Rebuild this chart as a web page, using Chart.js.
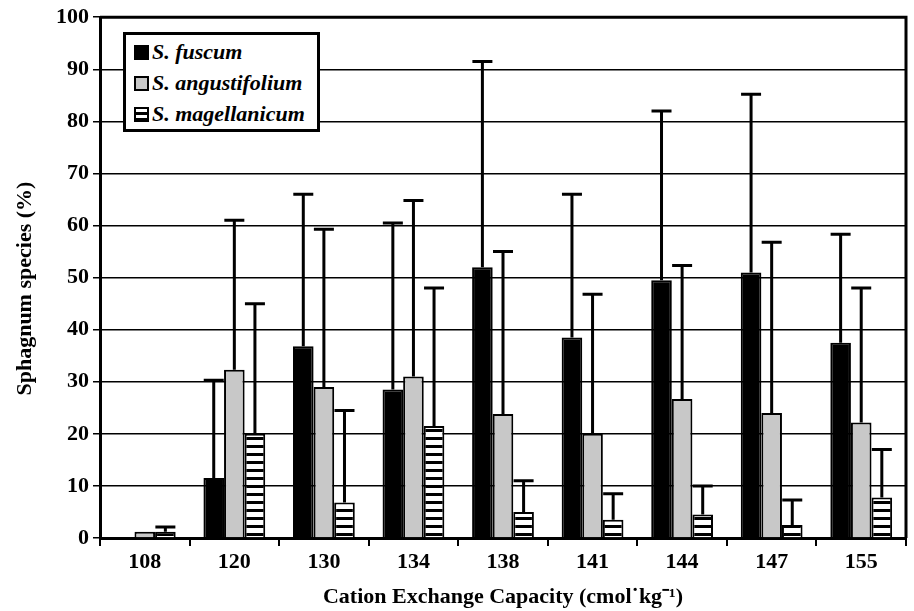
<!DOCTYPE html>
<html>
<head>
<meta charset="utf-8">
<script src="https://cdn.jsdelivr.net/npm/chart.js@4/dist/chart.umd.min.js"></script>
<style>
  body { margin: 0; background: #fff; }
  #wrap { position: relative; width: 914px; height: 611px; }
  #legend {
    position: absolute; left: 123px; top: 32px; width: 191px; height: 94px;
    border: 3px solid #000; background: #fff; box-sizing: content-box;
    font-family: "Liberation Serif", serif; font-weight: bold; font-style: italic; font-size: 22px;
  }
  .item { position: absolute; left: 8px; height: 24px; line-height: 24px; white-space: nowrap; }
  .sw { display: inline-block; width: 11px; height: 11px; border: 2.5px solid #000; vertical-align: -1px; margin-right: 3px; }
</style>
</head>
<body>
<div id="wrap">
  <canvas id="chart" width="914" height="611"></canvas>
  <div id="legend"></div>
</div>
<script>
// カテゴリ (陽イオン交換容量)
var categories = ["108", "120", "130", "134", "138", "141", "144", "147", "155"];

// 平均値 (%)
var fuscum        = [0, 11.5, 36.8, 28.5, 52, 38.5, 49.5, 51, 37.5];
var angustifolium = [1.2, 32.3, 29, 31, 23.8, 20, 26.7, 24, 22.2];
var magellanicum  = [1.2, 20, 6.8, 21.5, 5, 3.5, 4.5, 2.5, 7.8];

// 誤差 (上側のみ)
var fuscumErr        = [0, 18.8, 29.2, 32, 39.5, 27.5, 32.5, 34.2, 20.8];
var angustifoliumErr = [0, 28.7, 30.3, 33.8, 31.2, 26.8, 25.6, 32.8, 25.8];
var magellanicumErr  = [0.9, 25, 17.7, 26.5, 6, 5, 5.5, 4.8, 9.2];

var yTicks = [0, 10, 20, 30, 40, 50, 60, 70, 80, 90, 100];

// 横縞パターン
function stripePattern() {
    var c = document.createElement("canvas");
    c.width = 8; c.height = 8;
    var g = c.getContext("2d");
    g.fillStyle = "#fff";
    g.fillRect(0, 0, 8, 8);
    g.fillStyle = "#000";
    g.fillRect(0, 5, 8, 3);
    return g.createPattern(c, "repeat");
}

var errorBars = {
    id: "errorBars",
    afterDatasetsDraw: function(chart) {
        var ctx = chart.ctx;
        var y = chart.scales.y;
        ctx.save();
        ctx.strokeStyle = "#000";
        ctx.lineWidth = 3;
        chart.data.datasets.forEach(function(ds, i) {
            var meta = chart.getDatasetMeta(i);
            meta.data.forEach(function(bar, j) {
                var e = ds.errors[j];
                if (!e) return;
                var top = y.getPixelForValue(ds.data[j] + e);
                ctx.beginPath();
                ctx.moveTo(bar.x, bar.y);
                ctx.lineTo(bar.x, top);
                ctx.moveTo(bar.x - 10, top);
                ctx.lineTo(bar.x + 10, top);
                ctx.stroke();
            });
        });
        ctx.restore();
    }
};

var frame = {
    id: "frame",
    afterDraw: function(chart) {
        var a = chart.chartArea, ctx = chart.ctx;
        ctx.save();
        ctx.strokeStyle = "#000";
        ctx.lineWidth = 3;
        ctx.beginPath();
        ctx.moveTo(a.left, a.top);
        ctx.lineTo(a.right, a.top);
        ctx.lineTo(a.right, a.bottom);
        ctx.stroke();
        ctx.restore();
    }
};

function createData(label, data, errors, color) {
    return {
        label: label,
        data: data,
        errors: errors,
        backgroundColor: color,
        borderColor: "#000",
        borderWidth: 2,
        borderSkipped: "bottom",
        categoryPercentage: 0.69,
        barPercentage: 1.0
    };
}

var tickFont = { family: "Liberation Serif", weight: "bold", size: 22 };

var chart = new Chart(document.getElementById("chart"), {
    type: "bar",
    data: {
        labels: categories,
        datasets: [
            createData("S. fuscum", fuscum, fuscumErr, "#000"),
            createData("S. angustifolium", angustifolium, angustifoliumErr, "#c8c8c8"),
            createData("S. magellanicum", magellanicum, magellanicumErr, stripePattern())
        ]
    },
    options: {
        responsive: false,
        animation: false,
        layout: { padding: { top: 17, right: 8, left: 0, bottom: 0 } },
        plugins: { legend: { display: false }, tooltip: { enabled: false } },
        scales: {
            x: {
                grid: { drawOnChartArea: false, color: "#000", lineWidth: 2, tickLength: 8, offset: true },
                border: { color: "#000", width: 3 },
                ticks: { color: "#000", font: tickFont, padding: 3 },
                title: {
                    display: true,
                    text: "Cation Exchange Capacity (cmol\u02D9kg\u207B\u00B9)",
                    color: "#000",
                    font: { family: "Liberation Serif", weight: "bold", size: 22 },
                    padding: { top: 6, bottom: 0 }
                },
                afterFit: function(s) { s.height = 73; }
            },
            y: {
                min: 0, max: 100,
                afterBuildTicks: function(s) { s.ticks = yTicks.map(function(v) { return { value: v }; }); },
                grid: { color: "#000", lineWidth: 1.5, tickLength: 7 },
                border: { color: "#000", width: 3 },
                ticks: { color: "#000", font: tickFont, padding: 4 },
                title: {
                    display: true,
                    text: "Sphagnum species (%)    ",
                    color: "#000",
                    font: { family: "Liberation Serif", weight: "bold", size: 22 },
                    padding: { top: 12, bottom: 4 }
                },
                afterFit: function(s) { s.width = 100; }
            }
        }
    },
    plugins: [errorBars, frame]
});

// 凡例 (HTML)
var legend = document.getElementById("legend");
chart.data.datasets.forEach(function(ds, i) {
    var d = document.createElement("div");
    d.className = "item";
    d.style.top = (5 + i * 31) + "px";
    var sw = document.createElement("span");
    sw.className = "sw";
    if (i === 2) {
        sw.style.background = "repeating-linear-gradient(#fff 0 3px, #000 3px 6px)";
    } else {
        sw.style.background = ds.backgroundColor;
    }
    d.appendChild(sw);
    d.appendChild(document.createTextNode(ds.label));
    legend.appendChild(d);
});
</script>
</body>
</html>
